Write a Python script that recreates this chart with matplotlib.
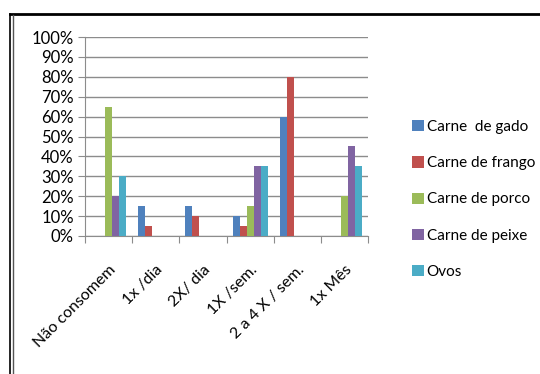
import numpy as np
import matplotlib.pyplot as plt
from matplotlib.lines import Line2D

categories = ['Não consomem', '1x /dia', '2X/ dia', '1X /sem.', '2 a 4 X / sem.', '1x Mês']
series = ['Carne  de gado', 'Carne de frango', 'Carne de porco', 'Carne de peixe', 'Ovos']
gado = [0, 15, 15, 10, 60, 0]
frango = [0, 5, 10, 5, 80, 0]
porco = [65, 0, 0, 15, 0, 20]
peixe = [20, 0, 0, 35, 0, 45]
ovos = [30, 0, 0, 35, 0, 35]
colors = ['#4F81BD', '#C0504D', '#9BBB59', '#8064A2', '#4BACC6']


def main():
    plt.rcParams['font.family'] = ['Lato', 'DejaVu Sans']
    fig = plt.figure(figsize=(5.4, 3.74), dpi=100)
    ax = fig.add_axes([0.1574, 0.369, 0.5241, 0.532])

    data = [gado, frango, porco, peixe, ovos]
    x = np.arange(len(categories))
    w = 0.148
    for j, vals in enumerate(data):
        ax.bar(x + (j - 2) * w, np.array(vals) / 100, w, color=colors[j],
               label=series[j], zorder=3)

    ax.set_xlim(-0.5, len(categories) - 0.5)
    ax.set_ylim(0, 1)
    ax.set_yticks(np.arange(0, 1.01, 0.1))
    ax.set_yticklabels(['%d%%' % v for v in range(0, 101, 10)], fontsize=12)
    ax.yaxis.grid(True, color='#8c8c8c', linewidth=1, zorder=0)
    ax.tick_params(axis='y', length=5, color='#8c8c8c', pad=3)

    ax.set_xticks(np.arange(-0.5, len(categories), 1))
    ax.set_xticklabels([])
    ax.tick_params(axis='x', which='major', length=5, direction='out', color='#8c8c8c')
    ax.set_xticks(x, minor=True)
    ax.set_xticklabels(categories, minor=True, rotation=45, ha='right',
                       rotation_mode='anchor', fontsize=11.5)
    ax.tick_params(axis='x', which='minor', length=0, pad=19)

    for s in ['top', 'right']:
        ax.spines[s].set_visible(False)
    for s in ['left', 'bottom']:
        ax.spines[s].set_color('#8c8c8c')

    ax.legend(loc='upper left', bbox_to_anchor=(0.752, 0.695), bbox_transform=fig.transFigure,
              frameon=False, fontsize=11, handlelength=0.75, handleheight=0.75,
              handletextpad=0.2, labelspacing=1.45, borderaxespad=0)

    # outer frame
    fig.add_artist(Line2D([10 / 540, 1], [1 - 14 / 374, 1 - 14 / 374], color='black', lw=2))
    fig.add_artist(Line2D([10 / 540, 10 / 540], [0, 1 - 14 / 374], color='black', lw=1.2))
    fig.add_artist(Line2D([13 / 540, 13 / 540], [0, 1 - 15 / 374], color='#555555', lw=1))

    plt.savefig('out.png')


if __name__ == '__main__':
    main()
